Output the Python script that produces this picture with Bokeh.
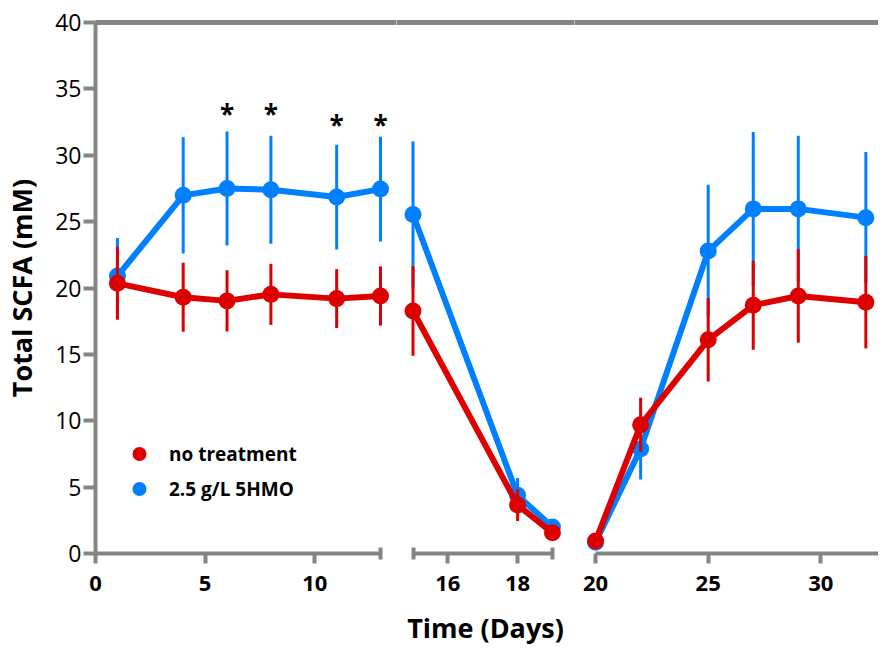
from bokeh.plotting import figure
from bokeh.models import ColumnDataSource, FixedTicker, Legend, LegendItem, Range1d, LinearAxis
from bokeh.layouts import row
from bokeh.embed import file_html
from bokeh.resources import INLINE
from bokeh.core.properties import value

# ---------------- data ----------------
days      = [1, 4, 6, 8, 11, 13, 15, 18, 19, 20, 22, 25, 27, 29, 32]
phase     = [0, 0, 0, 0, 0, 0, 1, 1, 1, 2, 2, 2, 2, 2, 2]
ctrl_mean = [20.35, 19.3, 19.03, 19.52, 19.2, 19.4, 18.27, 3.65, 1.56, 0.95, 9.69, 16.1, 18.7, 19.4, 18.93]
ctrl_err  = [2.75, 2.6, 2.3, 2.3, 2.22, 2.23, 3.37, 1.2, 0.3, 0.2, 2.05, 3.15, 3.35, 3.52, 3.48]
hmo_mean  = [20.9, 26.98, 27.49, 27.4, 26.85, 27.45, 25.54, 4.38, 2.0, 0.85, 7.88, 22.78, 25.96, 25.96, 25.3]
hmo_err   = [2.86, 4.38, 4.29, 4.06, 3.95, 3.95, 5.5, 1.3, 0.3, 0.2, 2.3, 5.0, 5.8, 5.5, 4.94]
sig_days  = [6, 8, 11, 13]
sig_level = [33.4, 33.4, 32.6, 32.6]
sig_text  = ["*", "*", "*", "*"]
segment_bounds = [(0, 13), (15, 19), (20, None)]
x_major_ticks  = [[0, 5, 10], [16, 18], [20, 25, 30]]
x_minor_ticks  = [[13], [15, 19], []]
y_ticks = [0, 5, 10, 15, 20, 25, 30, 35, 40]
series_names = ["no treatment", "2.5 g/L 5HMO"]
x_label = "Time (Days)"
y_label = "Total SCFA (mM)"

# ---------------- style ----------------
RED = "#dd0000"
BLUE = "#0080ff"
GRAY = "#858585"
FONT = "Open Sans"

# ---------------- layout (pixels) ----------------
H = 648
TOP = 22
BOTTOM = 94
LEFT = 93
frame_w = [303, 178, 304]
px_per_day = [22.07, 34.86, 22.52]
first_px = [0, 16.5, 21.1]          # pixels from frame left to segment start

figs = []
for k in range(3):
    start = segment_bounds[k][0] - first_px[k] / px_per_day[k]
    end = start + frame_w[k] / px_per_day[k]
    w = frame_w[k] + (LEFT if k == 0 else 0)
    p = figure(width=w, height=H, output_backend="svg", toolbar_location=None,
               x_range=Range1d(start, end), y_range=Range1d(0, 40),
               y_axis_location="left" if k == 0 else None,
               min_border_left=LEFT if k == 0 else 0, min_border_right=0,
               min_border_top=TOP, min_border_bottom=BOTTOM)
    p.xgrid.visible = False
    p.ygrid.visible = False
    p.outline_line_color = None
    p.background_fill_color = "white"
    p.border_fill_color = "white"

    idx = [i for i, ph in enumerate(phase) if ph == k]
    xs = [days[i] for i in idx]
    renderers = {}
    for name, mean, err, col in [(series_names[1], hmo_mean, hmo_err, BLUE),
                                 (series_names[0], ctrl_mean, ctrl_err, RED)]:
        m = [mean[i] for i in idx]
        e = [err[i] for i in idx]
        src = ColumnDataSource(dict(x=xs, y=m, lo=[a - b for a, b in zip(m, e)],
                                    hi=[a + b for a, b in zip(m, e)]))
        p.segment(x0="x", y0="lo", x1="x", y1="hi", source=src, line_color=col, line_width=3)
        p.line(x="x", y="y", source=src, line_color=col, line_width=6)
        renderers[name] = p.scatter(x="x", y="y", source=src, size=17, fill_color=col,
                                    line_color=col, line_width=0)

    ax = p.below[0]

    # top border line: an axis above with only its line
    top_ax = LinearAxis(ticker=FixedTicker(ticks=[]), axis_line_color=GRAY, axis_line_width=5,
                        major_tick_line_color=None, minor_tick_line_color=None,
                        major_label_text_font_size="0px")
    p.add_layout(top_ax, "above")

    hi_bound = segment_bounds[k][1] if segment_bounds[k][1] is not None else end
    ax.bounds = (segment_bounds[k][0], hi_bound)
    ax.ticker = FixedTicker(ticks=x_major_ticks[k], minor_ticks=x_minor_ticks[k])
    ax.axis_line_color = GRAY
    ax.axis_line_width = 4
    ax.major_tick_line_color = GRAY
    ax.major_tick_line_width = 4
    ax.major_tick_in = 0
    ax.major_tick_out = 10
    ax.minor_tick_line_color = GRAY
    ax.minor_tick_line_width = 4
    ax.minor_tick_in = 6
    ax.minor_tick_out = 6
    ax.major_label_text_font = FONT
    ax.major_label_text_font_size = "22px"
    ax.major_label_text_font_style = "bold"
    ax.major_label_text_color = "black"
    ax.major_label_standoff = 12
    if k == 1:
        ax.axis_label = x_label
        ax.axis_label_text_font = FONT
        ax.axis_label_text_font_size = "27px"
        ax.axis_label_text_font_style = "bold"
        ax.axis_label_text_color = "black"
        ax.axis_label_standoff = 15

    if k == 0:
        ay = p.left[0]
        ay.bounds = (0, 40)
        ay.ticker = FixedTicker(ticks=y_ticks)
        ay.axis_line_color = GRAY
        ay.axis_line_width = 4
        ay.major_tick_line_color = GRAY
        ay.major_tick_line_width = 4
        ay.major_tick_in = 0
        ay.major_tick_out = 12
        ay.minor_tick_line_color = None
        ay.major_label_text_font = FONT
        ay.major_label_text_font_size = "23px"
        ay.major_label_text_color = "black"
        ay.major_label_standoff = 2
        ay.axis_label = y_label
        ay.axis_label_text_font = FONT
        ay.axis_label_text_font_size = "27px"
        ay.axis_label_text_font_style = "bold"
        ay.axis_label_text_color = "black"
        ay.axis_label_standoff = 12

        src_sig = ColumnDataSource(dict(x=sig_days, y=sig_level, t=sig_text))
        p.text(x="x", y="y", text="t", source=src_sig, text_font=value(FONT),
               text_font_size="26px", text_font_style="bold", text_color="black",
               text_align="center", text_baseline="middle", y_offset=4)

        legend = Legend(items=[LegendItem(label=series_names[0], renderers=[renderers[series_names[0]]]),
                               LegendItem(label=series_names[1], renderers=[renderers[series_names[1]]])],
                        location=(24, 47), orientation="vertical",
                        glyph_width=40, glyph_height=35, spacing=0, padding=0, margin=0,
                        label_standoff=10, label_text_font=FONT, label_text_font_size="19px",
                        label_text_font_style="bold", label_text_color="black",
                        border_line_alpha=0, background_fill_alpha=0)
        p.add_layout(legend, "center")
    figs.append(p)

layout = row(*figs, spacing=0)
open("out.html", "w").write(file_html(layout, INLINE))
